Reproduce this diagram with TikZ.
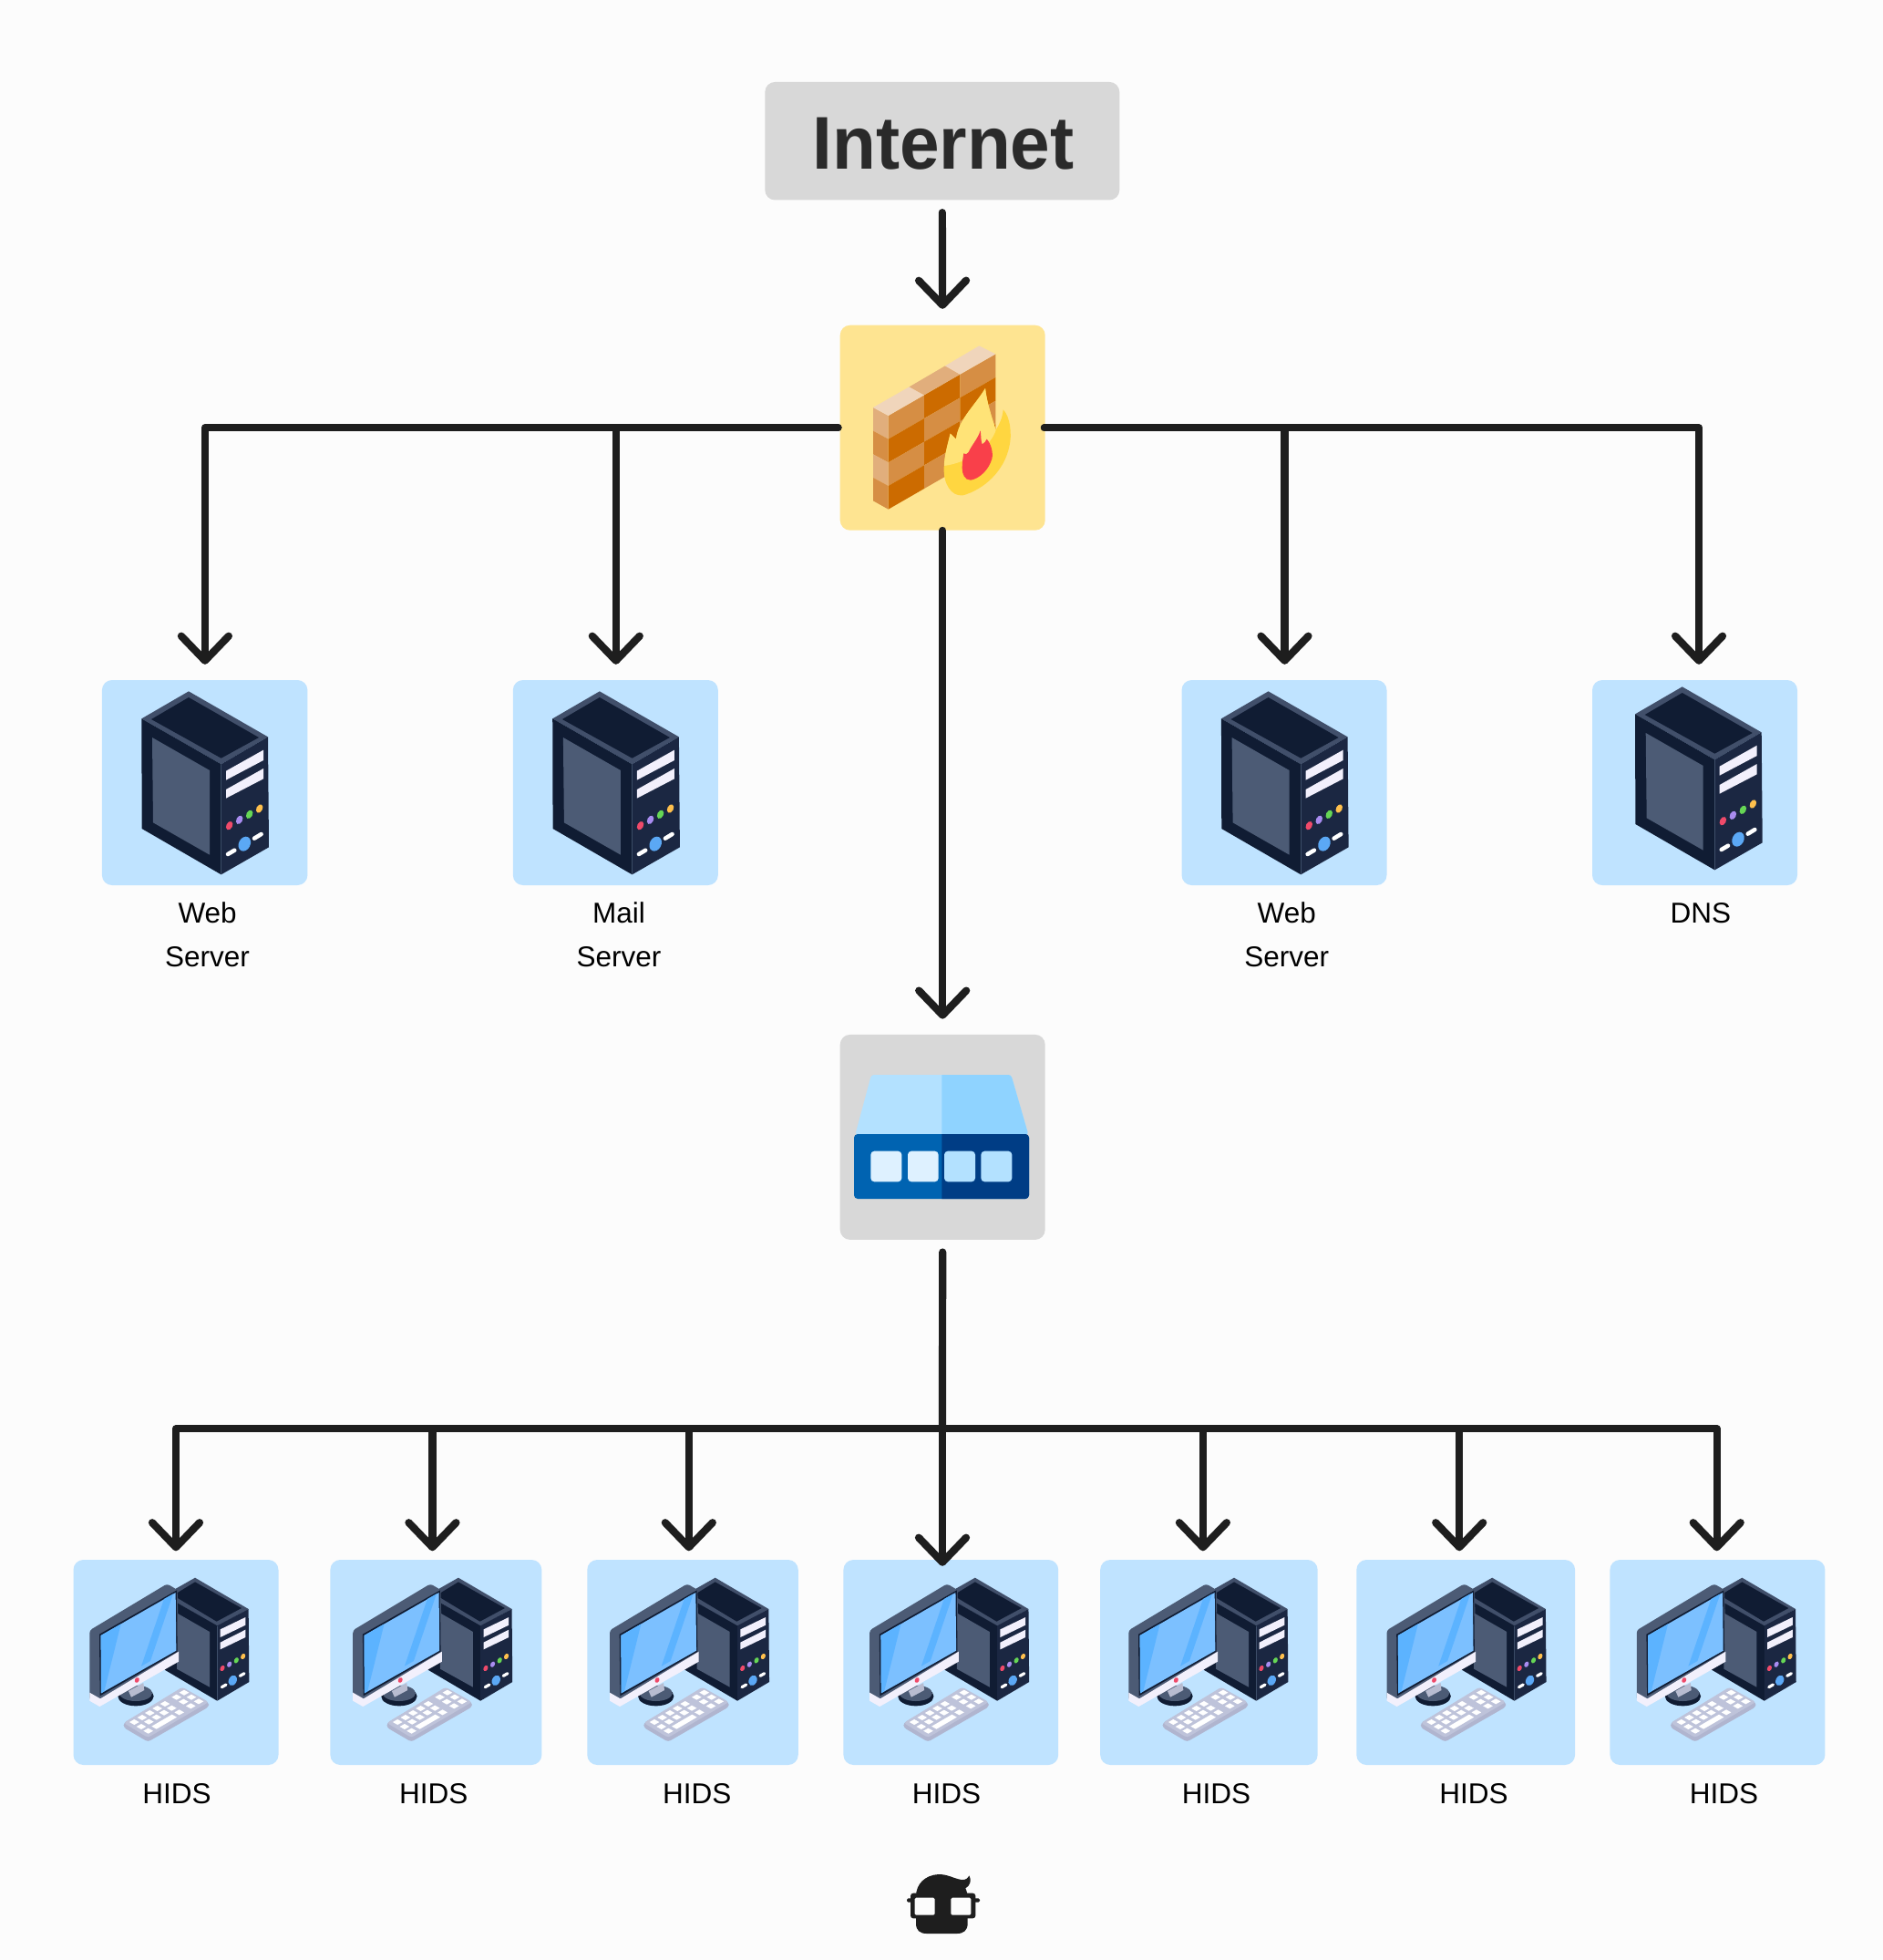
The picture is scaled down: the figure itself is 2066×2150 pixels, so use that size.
\documentclass[tikz,border=0pt]{standalone}
\usepackage{fontspec}
\usetikzlibrary{arrows.meta}
\setmainfont{Liberation Sans}
\newfontfamily\lblfont{Liberation Sans}
\newfontfamily\netfont[FakeStretch=0.955]{Liberation Sans Bold}
\definecolor{bgc}{HTML}{FCFCFC}
\definecolor{ink}{HTML}{1E1E1E}
\definecolor{nettxtc}{HTML}{2A2A2A}
\definecolor{bluebg}{HTML}{BFE3FF}
\definecolor{yellowbg}{HTML}{FEE491}
\definecolor{greybg}{HTML}{D8D8D8}
\definecolor{navy}{HTML}{101C33}
\definecolor{navyb}{HTML}{1B2742}
\definecolor{slatec}{HTML}{4C5B75}
\definecolor{slated}{HTML}{414F6A}
\definecolor{paper}{HTML}{F2F0FC}
\definecolor{ledr}{HTML}{EF4A6A}
\definecolor{ledp}{HTML}{A98CF0}
\definecolor{ledg}{HTML}{66D655}
\definecolor{ledo}{HTML}{FFC04D}
\definecolor{ledb}{HTML}{5BA8F5}
\definecolor{brickA}{HTML}{D68E44}
\definecolor{brickB}{HTML}{CC6B00}
\definecolor{brickC}{HTML}{E1AE7C}
\definecolor{brickD}{HTML}{F0D5BB}
\definecolor{flameA}{HTML}{FFD640}
\definecolor{flameB}{HTML}{FFE377}
\definecolor{flameC}{HTML}{F9404A}
\definecolor{swA}{HTML}{B3E1FF}
\definecolor{swB}{HTML}{8FD3FF}
\definecolor{swC}{HTML}{0063B1}
\definecolor{swD}{HTML}{003D85}
\definecolor{swE}{HTML}{DEF1FF}
\definecolor{scrA}{HTML}{7CC0FF}
\definecolor{scrB}{HTML}{5CB3FF}
\definecolor{kbA}{HTML}{B0B5CF}
\definecolor{kbB}{HTML}{BEC3DA}
\definecolor{neckc}{HTML}{B8BCD0}
\tikzset{
  boxbase/.style={rectangle,rounded corners=11pt,inner sep=0pt,minimum height=225pt},
  bluebox/.style={boxbase,fill=bluebg},
  yellowbox/.style={boxbase,fill=yellowbg,minimum width=225pt},
  greybox/.style={boxbase,fill=greybg,minimum width=225pt},
  labeltxt/.style={inner sep=0pt,anchor=base,text=black,font=\lblfont\fontsize{31.5}{36}\selectfont},
  conn/.style={draw=ink,line width=8.2pt,line cap=round,line join=round},
  arrowed/.style={conn,-{Straight Barb[length=27pt,width=52pt,line width=8.2pt,round]}},
  zoomed/.style={x=.33333pt,y=-.33333pt},
}
\newcommand\isoell[5]{\fill[#5,rotate around={-27:(#1,#2)}] (#1,#2) ellipse (#3 and #4);}
\newcommand\servericon[2]{%
\begin{scope}[shift={(#1,#2)},zoomed]
 \fill[slated] (166,175)--(321,85)--(582,235)--(428,325)--cycle;
 \fill[navy] (198,177)--(321,105)--(552,237)--(428,305)--cycle;
 \fill[navy] (166,175)--(428,325)--(428,688)--(167,537)--cycle;
 \fill[slatec] (201,237)--(390,345)--(390,623)--(204,517)--cycle;
 \fill[navyb] (428,325)--(582,235)--(585,598)--(428,688)--cycle;
 \fill[paper] (444,347)--(567,278)--(567,312)--(444,377)--cycle;
 \fill[paper] (444,408)--(567,339)--(567,373)--(444,437)--cycle;
 \isoell{455}{527}{10}{15}{ledr}
 \isoell{488}{508}{10}{15}{ledp}
 \isoell{521}{490}{10}{15}{ledg}
 \isoell{554}{471}{10}{15}{ledo}
 \isoell{505}{587}{19}{25}{ledb}
 \draw[white,line width=4.5pt,line cap=round] (450,621)--(472,608);
 \draw[white,line width=4.5pt,line cap=round] (537,569)--(560,555);
\end{scope}}
\newcommand\kbkey[2]{\fill[white] (#1-16,#2)--(#1,#2-9)--(#1+16,#2)--(#1,#2+9)--cycle;}
\newcommand\hidsicon[2]{%
\begin{scope}[shift={(#1,#2)},zoomed]
 % tower
 \fill[slated] (330,150)--(432,92)--(608,195)--(505,252)--cycle;
 \fill[navy] (360,150)--(432,106)--(585,192)--(503,236)--cycle;
 \fill[navy] (330,150)--(505,250)--(505,497)--(332,395)--cycle;
 \fill[slatec] (372,208)--(480,270)--(480,452)--(372,392)--cycle;
 \fill[navyb] (505,250)--(608,195)--(610,435)--(505,497)--cycle;
 \fill[paper] (515,262)--(598,222)--(598,248)--(515,288)--cycle;
 \fill[paper] (515,305)--(598,263)--(598,288)--(515,328)--cycle;
 \isoell{522}{390}{7}{10}{ledr}
 \isoell{545}{377}{7}{10}{ledp}
 \isoell{568}{364}{7}{10}{ledg}
 \isoell{590}{351}{7}{10}{ledo}
 \isoell{556}{430}{13}{18}{ledb}
 \draw[white,line width=3.2pt,line cap=round] (520,452)--(534,444);
 \draw[white,line width=3.2pt,line cap=round] (580,415)--(594,407);
 % stand
 \fill[navy] (237,482) ellipse (59 and 32);
 \fill[slatec] (237,472) ellipse (54 and 26);
 \fill[neckc] (213,465)--(262,438)--(265,462)--(222,485)--cycle;
 % monitor
 \fill[slatec,rounded corners=3pt] (85,495)--(85,265)--(340,112)--(374,132)--(378,340)--(120,505)--cycle;
 \fill[paper] (85,470)--(120,490)--(378,335)--(378,368)--(118,516)--(85,497)--cycle;
 \fill[navy] (117,278)--(372,133)--(374,335)--(119,481)--cycle;
 \fill[scrA] (122,282)--(368,141)--(370,332)--(123,472)--cycle;
 \fill[scrB] (122,282)--(188,244)--(133,466)--(123,472)--cycle;
 \fill[scrB] (330,162)--(360,145)--(285,366)--(255,383)--cycle;
 \isoell{241}{429}{7}{9}{ledr}
 % keyboard
 \fill[kbA,rounded corners=3pt] (197,570)--(390,455)--(477,503)--(477,517)--(277,632)--(197,585)--cycle;
 \fill[kbB,rounded corners=3pt] (197,570)--(390,452)--(477,501)--(277,618)--cycle;
 \foreach \kx/\ky in {232/567,258/552,283/537,308/522,333/507,371/485,396/470,
   255/582,280/566,305/551,330/536,355/521,394/500,420/485,278/596,380/535,418/514,444/499}{\kbkey{\kx}{\ky}}
 \fill[white] (289,581)--(356,542)--(372,551)--(305,590)--cycle;
\end{scope}}
\newcommand\fwicon[2]{%
\begin{scope}[shift={(#1,#2)},zoomed]
 % front bricks
 \foreach \ya/\yb/\yc/\yd/\ca/\cb/\cc in {348/280/212/145/brickA/brickB/brickA,
    425/357/289/222/brickB/brickA/brickB,
    502/434/366/299/brickA/brickB/brickA,
    579/511/443/376/brickB/brickA/brickB}{
   \fill[\ca] (224,\ya)--(342,\yb)--(342,\yb+77)--(224,\ya+77)--cycle;
   \fill[\cb] (342,\yb)--(460,\yc)--(460,\yc+77)--(342,\yb+77)--cycle;
   \fill[\cc] (460,\yc)--(577,\yd)--(577,\yd+77)--(460,\yc+77)--cycle;
 }
 % end face
 \fill[brickC] (174,321)--(224,348)--(224,425)--(174,398)--cycle;
 \fill[brickA] (174,398)--(224,425)--(224,502)--(174,475)--cycle;
 \fill[brickC] (174,475)--(224,502)--(224,579)--(174,552)--cycle;
 \fill[brickA] (174,552)--(224,579)--(224,656)--(174,628)--cycle;
 % top
 \fill[brickD] (174,321)--(293,253)--(342,280)--(224,348)--cycle;
 \fill[brickC] (293,253)--(411,184)--(460,212)--(342,280)--cycle;
 \fill[brickD] (411,184)--(523,118)--(577,145)--(460,212)--cycle;
 % flame
 \fill[flameA] (407,520) .. controls (408,480) and (420,440) .. (428,407)
    .. controls (435,415) and (442,420) .. (447,425)
    .. controls (455,360) and (505,320) .. (543,258)
    .. controls (548,300) and (560,340) .. (578,395)
    .. controls (590,375) and (600,355) .. (602,328)
    .. controls (625,350) and (632,410) .. (622,450)
    .. controls (605,530) and (540,590) .. (470,610)
    .. controls (430,615) and (405,570) .. (407,520) -- cycle;
 \fill[flameB] (408,513) .. controls (408,480) and (420,440) .. (428,407)
    .. controls (435,415) and (442,420) .. (447,425)
    .. controls (455,360) and (505,320) .. (543,258)
    .. controls (548,300) and (560,340) .. (578,395)
    .. controls (565,440) and (500,500) .. (408,513) -- cycle;
 \fill[flameC] (467,520) .. controls (467,500) and (470,485) .. (472,472)
    .. controls (478,476) and (483,476) .. (488,468)
    .. controls (498,445) and (518,425) .. (527,397)
    .. controls (530,415) and (528,430) .. (533,442)
    .. controls (540,438) and (545,432) .. (548,425)
    .. controls (562,440) and (570,470) .. (565,490)
    .. controls (555,525) and (525,555) .. (495,560)
    .. controls (475,560) and (467,540) .. (467,520) -- cycle;
\end{scope}}
\newcommand\swicon[2]{%
\begin{scope}[shift={(#1,#2)},zoomed]
 \fill[swA,rounded corners=3pt] (115,374)--(168,177)--(628,177)--(685,374)--cycle;
 \begin{scope}
  \clip (400,100) rectangle (720,374);
  \fill[swB,rounded corners=3pt] (115,374)--(168,177)--(628,177)--(685,374)--cycle;
 \end{scope}
 \fill[swC,rounded corners=4pt] (111,372) rectangle (687,585);
 \begin{scope}
  \clip (400,300) rectangle (720,620);
  \fill[swD,rounded corners=4pt] (111,372) rectangle (687,585);
 \end{scope}
 \fill[swE,rounded corners=4pt] (166,428) rectangle (268,529);
 \fill[swE,rounded corners=4pt] (288,428) rectangle (389,529);
 \fill[swA,rounded corners=4pt] (408,428) rectangle (510,529);
 \fill[swA,rounded corners=4pt] (529,428) rectangle (631,529);
\end{scope}}
\begin{document}
\begin{tikzpicture}[x=1pt,y=-1pt]
\useasboundingbox (0,0) rectangle (2066,2150);
\fill[bgc] (0,0) rectangle (2066,2150);
% boxes
\node[boxbase,fill=greybg,minimum width=389pt,minimum height=129.5pt] (net) at (1033.8,154.7) {};
\node[yellowbox] (fw) at (1034.2,469.2) {};
\node[greybox] (sw) at (1034.2,1247.4) {};
\node[bluebox,minimum width=225.5pt] (web1) at (224.65,858.5) {};
\node[bluebox,minimum width=225pt] (mail) at (675.3,858.5) {};
\node[bluebox,minimum width=225pt] (web2) at (1409,858.5) {};
\node[bluebox,minimum width=225pt] (dns) at (1859.5,858.5) {};
\node[bluebox,minimum width=225pt] (h1) at (193,1823.5) {};
\node[bluebox,minimum width=232pt] (h2) at (478.35,1823.5) {};
\node[bluebox,minimum width=231.5pt] (h3) at (760,1823.5) {};
\node[bluebox,minimum width=235.8pt] (h4) at (1043.3,1823.5) {};
\node[bluebox,minimum width=238.5pt] (h5) at (1326.4,1823.5) {};
\node[bluebox,minimum width=239.8pt] (h6) at (1608.2,1823.5) {};
\node[bluebox,minimum width=236pt] (h7) at (1884.4,1823.5) {};
% icons
\fwicon{900}{340}
\swicon{900}{1120}
\servericon{100}{730}
\servericon{550.9}{730}
\servericon{1284.6}{730}
\servericon{1738.7}{725}
\hidsicon{70}{1700}
\hidsicon{358.9}{1700}
\hidsicon{640.7}{1700}
\hidsicon{925.8}{1700}
\hidsicon{1210}{1700}
\hidsicon{1493.2}{1700}
\hidsicon{1767.4}{1700}
% texts
\node[inner sep=0pt,anchor=base,text=nettxtc,font=\netfont\fontsize{82}{90}\selectfont] (nettxt) at (1035,185) {Internet};
\node[labeltxt] (l1a) at (227.6,1012) {Web};
\node[labeltxt] (l1b) at (227.6,1060) {Server};
\node[labeltxt] (l2a) at (679,1012) {Mail};
\node[labeltxt] (l2b) at (679,1060) {Server};
\node[labeltxt] (l3a) at (1411.8,1012) {Web};
\node[labeltxt] (l3b) at (1411.8,1060) {Server};
\node[labeltxt] (l4a) at (1865.9,1012) {DNS};
\node[labeltxt] (t1) at (193.9,1978.7) {HIDS};
\node[labeltxt] (t2) at (475.8,1978.7) {HIDS};
\node[labeltxt] (t3) at (764.7,1978.7) {HIDS};
\node[labeltxt] (t4) at (1038.6,1978.7) {HIDS};
\node[labeltxt] (t5) at (1334.6,1978.7) {HIDS};
\node[labeltxt] (t6) at (1617,1978.7) {HIDS};
\node[labeltxt] (t7) at (1891.4,1978.7) {HIDS};
% connectors
\draw[arrowed,shorten <=13.5pt,shorten >=17.7pt] (net.south) -- (fw.north);
\draw[arrowed,shorten >=17pt] ([xshift=-2pt]fw.west) -| ([xshift=.25pt]web1.north);
\draw[arrowed,shorten >=17pt] ([xshift=-2pt]fw.west) -| ([xshift=.5pt]mail.north);
\draw[arrowed,shorten >=17pt] ([xshift=-1pt]fw.east) -| ([xshift=.5pt]web2.north);
\draw[arrowed,shorten >=17pt] ([xshift=-1pt]fw.east) -| ([xshift=4.5pt]dns.north);
\draw[arrowed,shorten >=17pt] (fw.south) -- (sw.north);
\coordinate (bus) at (1034,1567.3);
\draw[conn,shorten <=13.4pt] (sw.south) -- (bus);
\draw[arrowed,shorten >=9.5pt] (bus) -| (h1.north);
\draw[arrowed,shorten >=9.5pt] (bus) -| ([xshift=-3.9pt]h2.north);
\draw[arrowed,shorten >=9.5pt] (bus) -| ([xshift=-4.2pt]h3.north);
\draw[arrowed,shorten >=-7pt] (bus) -- (bus |- h4.north);
\draw[arrowed,shorten >=9.5pt] (bus) -| ([xshift=-6.5pt]h5.north);
\draw[arrowed,shorten >=9.5pt] (bus) -| ([xshift=-7pt]h6.north);
\draw[arrowed,shorten >=9.5pt] (bus) -| ([xshift=-.7pt]h7.north);
% logo
\begin{scope}[shift={(960,2030)},zoomed]
 \fill[ink] (135,150) .. controls (135,110) and (165,80) .. (210,78)
   .. controls (240,78) and (260,92) .. (285,96)
   .. controls (298,97) and (305,92) .. (310,82)
   .. controls (318,95) and (315,115) .. (298,124)
   .. controls (303,135) and (305,145) .. (305,155)
   -- (305,240) .. controls (305,262) and (292,273) .. (270,273)
   -- (170,273) .. controls (148,273) and (135,262) .. (135,240) -- cycle;
 \fill[ink,rounded corners=3pt] (117,140) rectangle (331,223);
 \fill[ink,rounded corners=1.5pt] (105,157) rectangle (345,170);
 \fill[bgc,rounded corners=1.5pt] (131,155) rectangle (197,212);
 \fill[bgc,rounded corners=1.5pt] (250,155) rectangle (316,212);
\end{scope}
\end{tikzpicture}
\end{document}
